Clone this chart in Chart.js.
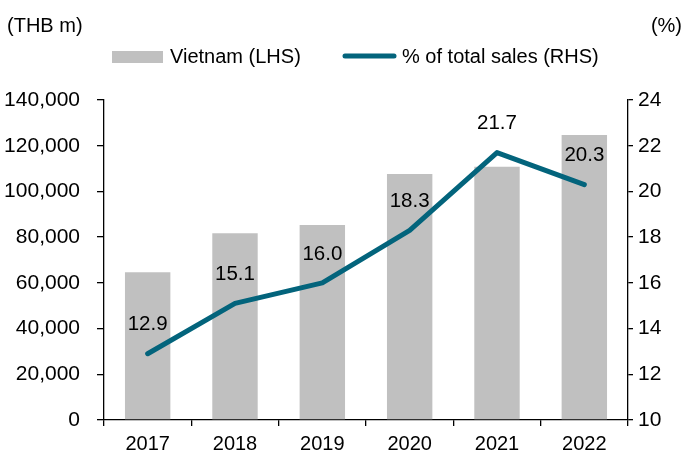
<!DOCTYPE html>
<html>
<head>
<meta charset="utf-8">
<script src="https://cdn.jsdelivr.net/npm/chart.js@4.4.0/dist/chart.umd.min.js"></script>
<style>
  body { margin: 0; background: #fff; }
  #wrap { width: 683px; height: 455px; }
</style>
</head>
<body>
<div id="wrap"><canvas id="vietnam" width="683" height="455"></canvas></div>
<script>
var years = ['2017', '2018', '2019', '2020', '2021', '2022'];
var vietnamSales = [64600, 81700, 85300, 107600, 110800, 124700];
var shareOfTotal = [12.9, 15.1, 16.0, 18.3, 21.7, 20.3];

var barColor = '#C0C0C0';
var lineColor = '#03647C';
var fontFamily = "Arial, 'Liberation Sans', sans-serif";

// unit captions, legend and the % labels above each point
var extraText = {
  id: 'extraText',
  afterDatasetsDraw: function(chart) {
    var c = chart.ctx;
    c.save();
    c.fillStyle = '#000';
    c.font = '20px ' + fontFamily;
    c.textBaseline = 'middle';

    c.textAlign = 'left';
    c.fillText('(THB m)', 7, 26);
    c.textAlign = 'right';
    c.fillText('(%)', 682, 26);

    // legend
    c.fillStyle = barColor;
    c.fillRect(112, 51, 51, 12);
    c.strokeStyle = lineColor;
    c.lineWidth = 5;
    c.lineCap = 'round';
    c.beginPath();
    c.moveTo(345, 56);
    c.lineTo(394, 56);
    c.stroke();
    c.fillStyle = '#000';
    c.textAlign = 'left';
    c.fillText('Vietnam (LHS)', 170, 57);
    c.fillText('% of total sales (RHS)', 402, 57);

    // value labels
    var meta = chart.getDatasetMeta(0);
    c.textAlign = 'center';
    c.font = '20.5px ' + fontFamily;
    meta.data.forEach(function(pt, i) {
      c.fillText(shareOfTotal[i].toFixed(1), pt.x, pt.y - 29);
    });
    c.restore();
  }
};

var tickFont = { family: fontFamily, size: 20 };
var yTickFont = { family: fontFamily, size: 21 };

new Chart(document.getElementById('vietnam'), {
  type: 'bar',
  data: {
    labels: years,
    datasets: [{
      type: 'line',
      label: '% of total sales (RHS)',
      data: shareOfTotal,
      yAxisID: 'y1',
      borderColor: lineColor,
      borderWidth: 5,
      borderCapStyle: 'round',
      borderJoinStyle: 'round',
      pointRadius: 0,
      tension: 0,
      order: 0
    }, {
      label: 'Vietnam (LHS)',
      data: vietnamSales,
      yAxisID: 'y',
      backgroundColor: barColor,
      barPercentage: 0.52,
      categoryPercentage: 1,
      order: 1
    }]
  },
  options: {
    responsive: false,
    animation: false,
    devicePixelRatio: 1,
    layout: { padding: { top: 100 } },
    plugins: {
      legend: { display: false },
      tooltip: { enabled: false }
    },
    scales: {
      x: {
        grid: { drawOnChartArea: false, tickLength: 6, color: '#000', lineWidth: 1.3 },
        border: { color: '#000', width: 1.3 },
        ticks: { color: '#000', font: tickFont, padding: 6, maxRotation: 0 },
        afterFit: function(scale) { scale.height = 35; }
      },
      y: {
        position: 'left',
        min: 0,
        max: 140000,
        grid: { drawOnChartArea: false, tickLength: 7, color: '#000', lineWidth: 1.3 },
        border: { color: '#000', width: 1.3 },
        ticks: {
          stepSize: 20000,
          color: '#000',
          font: yTickFont,
          padding: 17,
          callback: function(v) { return v.toLocaleString('en-US'); }
        },
        afterFit: function(scale) { scale.width = 104; }
      },
      y1: {
        position: 'right',
        min: 10,
        max: 24,
        grid: { drawOnChartArea: false, tickLength: 5, color: '#000', lineWidth: 1.3 },
        border: { color: '#000', width: 1.3 },
        ticks: { stepSize: 2, color: '#000', font: yTickFont, padding: 5 },
        afterFit: function(scale) { scale.width = 55; }
      }
    }
  },
  plugins: [extraText]
});
</script>
</body>
</html>
